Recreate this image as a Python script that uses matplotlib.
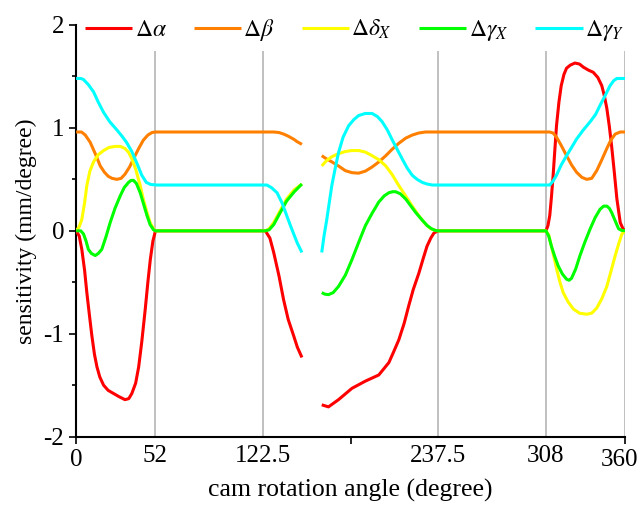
"""Sensitivity of the cam mechanism vs. cam rotation angle."""

import numpy as np
import matplotlib
matplotlib.use("Agg")
import matplotlib.pyplot as plt

plt.rcParams['font.family'] = ['Liberation Serif', 'DejaVu Serif']
plt.rcParams['mathtext.fontset'] = 'stix'

nan = np.nan

# values (NaN marks the gap between the two parts)
alpha_x = [0, 2, 3.7, 5.5, 7, 8.7, 10.3, 12, 13.6, 15.5, 18, 21, 24.5, 28, 32, 34.5,
           36.5, 39, 41, 43, 45.3, 47, 48.6, 50.3, 52, 124, 127, 129.5, 133, 136, 139,
           142.6, 145, 148, nan,
           161, 165.4, 172, 180.8, 189.6, 198.4, 205, 208, 211.5, 215, 218, 221, 224.7,
           227.5, 230, 232.5, 234.6, 237.5, 308, 309.3, 310.5, 311.6, 312.7, 313.8,
           314.9, 316.5, 318, 319.8, 321.5, 324, 327, 330, 332.5, 336, 339, 342, 344.6,
           346.3, 347.9, 349.5, 351, 352.8, 354.5, 356.7, 358.5, 360]
alpha_y = [0, -0.05, -0.18, -0.38, -0.6, -0.82, -1.02, -1.2, -1.32, -1.42, -1.5, -1.55,
           -1.58, -1.61, -1.64, -1.63, -1.58, -1.48, -1.32, -1.08, -0.76, -0.5, -0.28,
           -0.1, 0, 0, -0.07, -0.21, -0.44, -0.67, -0.86, -1.02, -1.13, -1.23, nan,
           -1.69, -1.71, -1.64, -1.53, -1.46, -1.40, -1.28, -1.18, -1.06, -0.9, -0.73,
           -0.57, -0.41, -0.27, -0.15, -0.07, -0.02, 0, 0, 0.05, 0.15, 0.33, 0.54, 0.78,
           1.02, 1.25, 1.41, 1.52, 1.58, 1.61, 1.63, 1.62, 1.59, 1.56, 1.54, 1.49, 1.41,
           1.31, 1.19, 1.02, 0.83, 0.57, 0.31, 0.08, 0.02, 0]

beta_x = [0, 3.5, 6, 9.2, 12.5, 15.8, 18.5, 21, 23.5, 26.7, 29.5, 32, 35, 37.6, 41, 44,
          47, 49.7, 52, 129.5, 133, 136, 139, 142.6, 145, 148, nan,
          161, 164, 167.6, 172, 176.4, 180.8, 185.2, 189.6, 194, 198.5, 203, 207, 211.5,
          216, 220.3, 224.5, 229, 233, 237.5, 310.5, 312.7, 314.9, 318, 321.5, 324.8,
          328, 331.5, 334.7, 338, 341.3, 344.6, 347.9, 350.5, 353.4, 356.7, 360]
beta_y = [0.96, 0.96, 0.93, 0.86, 0.75, 0.63, 0.57, 0.53, 0.51, 0.5, 0.51, 0.55, 0.62,
          0.7, 0.8, 0.88, 0.93, 0.955, 0.96, 0.96, 0.955, 0.94, 0.92, 0.89, 0.865, 0.84,
          nan,
          0.73, 0.70, 0.67, 0.63, 0.585, 0.565, 0.56, 0.58, 0.62, 0.67, 0.73, 0.79,
          0.85, 0.9, 0.93, 0.95, 0.96, 0.96, 0.96, 0.96, 0.95, 0.91, 0.83, 0.73, 0.64,
          0.57, 0.52, 0.5, 0.51, 0.585, 0.69, 0.8, 0.88, 0.94, 0.96, 0.96]

deltax_x = [0, 2, 3.7, 5.5, 7, 9, 11.4, 14.5, 18, 21.5, 25.6, 29, 32, 34.5, 36.5, 39,
            42, 44, 46.4, 48.5, 50.7, 52, 124, 126.5, 129.5, 133.5, 138, 143, 148, nan,
            161, 164, 167.6, 172, 176.4, 180.8, 185.2, 189.6, 194, 198.5, 203, 207,
            211.5, 216, 220.3, 224.5, 229, 232.5, 235.7, 237.5, 308, 309.8, 311.6,
            313.3, 315, 317, 319.3, 322.5, 326, 330, 334.7, 338, 341.3, 344.6, 347.9,
            350.5, 353.4, 355.8, 357.8, 360]
deltax_y = [0, 0.04, 0.11, 0.27, 0.44, 0.58, 0.67, 0.74, 0.78, 0.81, 0.82, 0.82, 0.8,
            0.76, 0.7, 0.6, 0.44, 0.31, 0.18, 0.08, 0.02, 0, 0, 0.02, 0.08, 0.19, 0.31,
            0.4, 0.455, nan,
            0.63, 0.68, 0.72, 0.75, 0.77, 0.78, 0.78, 0.765, 0.73, 0.69, 0.63, 0.55,
            0.44, 0.34, 0.24, 0.15, 0.065, 0.02, 0.003, 0, 0, -0.04, -0.15, -0.26,
            -0.37, -0.49, -0.6, -0.69, -0.76, -0.8, -0.81, -0.8, -0.75, -0.66, -0.54,
            -0.4, -0.24, -0.12, -0.03, 0]

gammax_x = [0, 3, 4.8, 6.5, 8, 10, 12.5, 14.5, 16.8, 19.5, 22.3, 25.5, 28.9, 31.5, 34.3,
            36, 37.6, 39.5, 42, 44, 46.4, 48.5, 50.7, 52, 124, 126.5, 129.5, 133.5, 138,
            143, 148, nan,
            161, 163, 165.4, 168.5, 172, 176.5, 180.8, 185, 189.6, 194, 198.4, 202, 205,
            207.5, 209.4, 212.5, 216, 219, 222.5, 226.5, 230.2, 233, 235.7, 237.5, 308,
            309.8, 311.6, 313.8, 316, 318.8, 321.5, 323.2, 324.8, 327.5, 330.3, 333.5,
            337, 340.3, 343.5, 345.8, 347.9, 349.5, 351, 353.3, 355.6, 357.5, 360]
gammax_y = [0, 0, -0.03, -0.1, -0.18, -0.22, -0.24, -0.22, -0.18, -0.06, 0.08, 0.22,
            0.34, 0.42, 0.47, 0.49, 0.49, 0.46, 0.37, 0.27, 0.15, 0.06, 0.01, 0, 0, 0.01,
            0.06, 0.17, 0.29, 0.38, 0.455, nan,
            -0.6, -0.615, -0.62, -0.6, -0.54, -0.43, -0.28, -0.12, 0.05, 0.17, 0.28,
            0.34, 0.37, 0.38, 0.38, 0.36, 0.31, 0.25, 0.18, 0.11, 0.05, 0.02, 0.003, 0,
            0, -0.05, -0.15, -0.25, -0.34, -0.42, -0.47, -0.48, -0.46, -0.37, -0.24,
            -0.11, 0.02, 0.13, 0.21, 0.24, 0.24, 0.22, 0.18, 0.1, 0.02, 0.005, 0]

gammay_x = [0, 3, 4.8, 8, 11.4, 14.5, 18, 22, 26.7, 30, 33, 36.5, 40, 43, 46, 49, 53,
            125, 128, 131.7, 135, 138, 140.5, 142.6, 145, 148, nan,
            161, 162.5, 164.3, 166, 167.6, 170, 172, 175, 178.6, 182, 185.2, 189.5, 194,
            197.5, 200.6, 204, 207, 210.5, 213.7, 217, 220.3, 223.5, 227, 230, 233.5,
            237.5, 310.5, 312.5, 314.9, 318, 321.5, 324.8, 328, 332.5, 337, 340.5,
            343.5, 347, 350, 352.5, 354.5, 356.5, 360]
gammay_y = [1.48, 1.48, 1.47, 1.42, 1.35, 1.25, 1.15, 1.06, 0.98, 0.92, 0.86, 0.77,
            0.65, 0.54, 0.47, 0.45, 0.445, 0.445, 0.42, 0.37, 0.27, 0.15, 0.05, -0.03,
            -0.12, -0.21, nan,
            -0.21, -0.05, 0.11, 0.28, 0.44, 0.62, 0.76, 0.91, 1.02, 1.08, 1.12, 1.14,
            1.14, 1.11, 1.06, 0.98, 0.89, 0.79, 0.7, 0.61, 0.54, 0.5, 0.47, 0.455,
            0.445, 0.445, 0.445, 0.48, 0.54, 0.64, 0.73, 0.81, 0.89, 0.98, 1.06, 1.13,
            1.22, 1.32, 1.41, 1.46, 1.48, 1.48, 1.48]

labels = [r'$\Delta\alpha$', r'$\Delta\beta$', r'$\Delta\delta_X$',
          r'$\Delta\gamma_X$', r'$\Delta\gamma_Y$']
colors = ['#ff0000', '#ff8000', '#ffff00', '#00ff00', '#00ffff']
series = [(alpha_x, alpha_y), (beta_x, beta_y), (deltax_x, deltax_y),
          (gammax_x, gammax_y), (gammay_x, gammay_y)]

stage_angles = [52, 122.5, 237.5, 308, 360]
tick_labels = ['52', '122.5', '237.5', '308']

FS = 18

fig = plt.figure(figsize=(6.4, 5.09), dpi=100)
ax = fig.add_axes([0.119, 0.142, 0.858, 0.809])

ax.vlines(stage_angles, -2, 1.75, color='#c0c0c0', lw=1.4, zorder=1)

for (xs, ys), c, lab in zip(series, colors, labels):
    ax.plot(xs, ys, color=c, lw=2.2, label=lab, zorder=3,
            solid_joinstyle='round', solid_capstyle='butt')

ax.set_xlim(0, 360)
ax.set_ylim(-2, 2)
ax.set_xticks([0, 180, 360])
ax.set_xticklabels(['0', '', ''])
ax.set_xticks(stage_angles[:-1], minor=True)
ax.set_xticklabels(tick_labels, minor=True)
ax.tick_params(axis='x', which='minor', length=0, pad=6)
ax.set_yticks([-2, -1, 0, 1, 2])
ax.set_yticks([-1.5, -0.5, 0.5, 1.5], minor=True)
ax.tick_params(which='both', labelsize=FS, width=1.2, direction='out')
ax.tick_params(which='major', length=5)
ax.tick_params(axis='y', which='minor', length=3)
ax.set_yticklabels(['-2', '-1', '0', '1', '2'])

# last label sits a little left of its tick so it stays inside the figure
ax.annotate('360', xy=(360, 0), xycoords=('data', 'axes fraction'),
            xytext=(-4.5, -8.5), textcoords='offset points',
            ha='center', va='top', fontsize=FS)

for side in ['top', 'right']:
    ax.spines[side].set_visible(False)
for side in ['left', 'bottom']:
    ax.spines[side].set_linewidth(1.5)

ax.set_xlabel('cam rotation angle (degree)', fontsize=18.5, labelpad=6)
ax.set_ylabel('sensitivity (mm/degree)', fontsize=17, labelpad=5)

fig.legend(loc='center left', bbox_to_anchor=(85 / 640, 1 - 30 / 509), ncol=5,
           frameon=False, fontsize=17, handlelength=2.0, handletextpad=0.1,
           columnspacing=1.15, borderpad=0, borderaxespad=0)

fig.savefig('out.png', dpi=100)
